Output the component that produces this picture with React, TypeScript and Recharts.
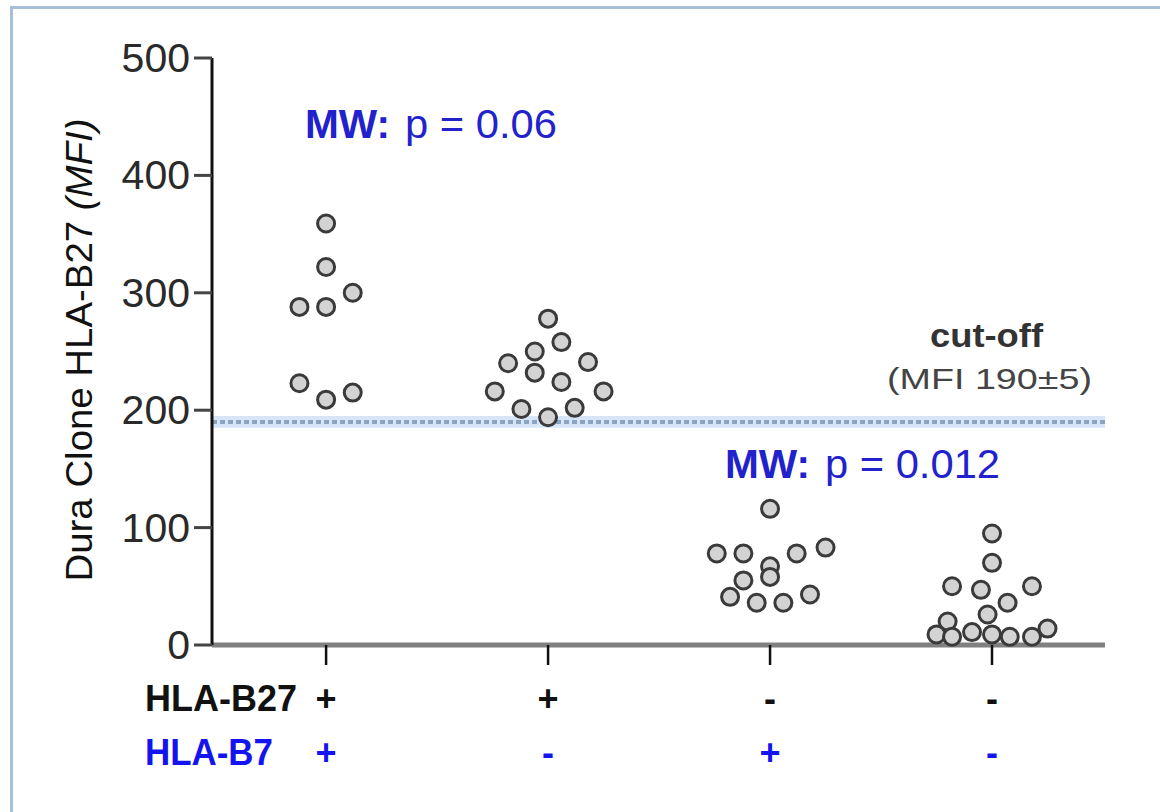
import React from "react";
import {
  ScatterChart,
  Scatter,
  XAxis,
  YAxis,
  ReferenceArea,
  ReferenceLine,
} from "recharts";

const FONT = "'Liberation Sans', Arial, sans-serif";

// group positions on the x axis
const groupPositions = [1, 2, 3, 4];
const b27Status = ["+", "+", "-", "-"];
const b7Status = ["+", "-", "+", "-"];

// MFI per sample, with the horizontal spread (in group units)
const group1Values = [359, 322, 300, 288, 288, 223, 209, 215];
const group1Jitter = [0, 0, 0.12, -0.12, 0, -0.12, 0, 0.12];
const group2Values = [278, 258, 250, 240, 241, 232, 224, 216, 216, 201, 202, 194];
const group2Jitter = [0, 0.06, -0.06, -0.18, 0.18, -0.06, 0.06, -0.24, 0.25, -0.12, 0.12, 0];
const group3Values = [116, 78, 78, 78, 83, 67, 55, 58, 41, 36, 36, 43];
const group3Jitter = [0, -0.24, -0.12, 0.12, 0.25, 0, -0.12, 0, -0.18, -0.06, 0.06, 0.18];
const group4Values = [95, 70, 50, 47, 50, 36, 26, 20, 9, 7, 11, 9, 7, 7, 14];
const group4Jitter = [0, 0, -0.18, -0.05, 0.18, 0.07, -0.02, -0.2, -0.25, -0.18, -0.09, 0, 0.08, 0.18, 0.25];

const yTicks = [0, 100, 200, 300, 400, 500];
const cutOff = 190;
const cutOffSpread = 5;

const toPoints = (pos: number, values: number[], jitter: number[]) =>
  values.map((v, i) => ({ x: pos + jitter[i], y: v }));

const groupData = [
  toPoints(groupPositions[0], group1Values, group1Jitter),
  toPoints(groupPositions[1], group2Values, group2Jitter),
  toPoints(groupPositions[2], group3Values, group3Jitter),
  toPoints(groupPositions[3], group4Values, group4Jitter),
];

const Dot = (props: any) => {
  const { cx, cy } = props;
  if (cx == null || cy == null) return null;
  return <circle cx={cx} cy={cy} r={8.5} fill="#d3d3d3" stroke="#3a3a3a" strokeWidth={3} />;
};

const YTick = (props: any) => {
  const { x, y, payload } = props;
  return (
    <text
      x={x - 2}
      y={y}
      dy={14}
      textAnchor="end"
      fontSize={41}
      fontFamily={FONT}
      fill="#2a2a2a"
    >
      {payload.value}
    </text>
  );
};

const XTick = (props: any) => {
  const { x, y, index } = props;
  return (
    <g>
      <text x={x} y={y + 44} textAnchor="middle" fontSize={36} fontWeight="bold" fontFamily={FONT} fill="#111">
        {b27Status[index]}
      </text>
      <text x={x} y={y + 98} textAnchor="middle" fontSize={36} fontWeight="bold" fontFamily={FONT} fill="#1414f0">
        {b7Status[index]}
      </text>
    </g>
  );
};

export default function App() {
  return (
    <div
      style={{
        position: "absolute",
        left: 0,
        top: 0,
        width: 1160,
        height: 812,
        background: "#fff",
        overflow: "hidden",
        fontFamily: FONT,
      }}
    >
      <div
        style={{
          position: "absolute",
          left: 10,
          top: 6,
          width: 1200,
          height: 900,
          borderLeft: "3px solid #a7bfd7",
          borderTop: "3px solid #a7bfd7",
        }}
      />
      <ScatterChart
        width={1160}
        height={812}
        margin={{ top: 58, right: 55, bottom: 57, left: 112 }}
        style={{ position: "absolute", left: 0, top: 0 }}
      >
        <XAxis
          type="number"
          dataKey="x"
          domain={[0.486, 4.509]}
          ticks={groupPositions}
          interval={0}
          height={110}
          axisLine={{ stroke: "#808080", strokeWidth: 5 }}
          tickLine={{ stroke: "#111", strokeWidth: 2.5 }}
          tickSize={20}
          tick={<XTick />}
        />
        <YAxis
          type="number"
          dataKey="y"
          domain={[0, 500]}
          ticks={yTicks}
          interval={0}
          width={100}
          axisLine={{ stroke: "#111", strokeWidth: 3 }}
          tickLine={{ stroke: "#444", strokeWidth: 3 }}
          tickSize={18}
          tick={<YTick />}
        />
        <ReferenceArea
          y1={cutOff - cutOffSpread}
          y2={cutOff + cutOffSpread}
          fill="#d6e6f8"
          fillOpacity={1}
          stroke="none"
        />
        <ReferenceLine y={cutOff} stroke="#8ba4c2" strokeWidth={4} strokeDasharray="5 3" />
        {groupData.map((pts, i) => (
          <Scatter key={i} data={pts} shape={<Dot />} isAnimationActive={false} />
        ))}
      </ScatterChart>
      <svg
        width={1160}
        height={812}
        style={{ position: "absolute", left: 0, top: 0, pointerEvents: "none" }}
        fontFamily={FONT}
      >
        <text
          transform="translate(92, 350) rotate(-90)"
          textAnchor="middle"
          fontSize={37}
          fill="#111"
          textLength={463}
          lengthAdjust="spacingAndGlyphs"
        >
          Dura Clone HLA-B27 <tspan fontStyle="italic">(MFI)</tspan>
        </text>

        <text x={305} y={138} fontSize={40} fontWeight="bold" fill="#2222cc" textLength={85} lengthAdjust="spacingAndGlyphs">
          MW:
        </text>
        <text x={405} y={138} fontSize={40} fill="#2222cc" textLength={152} lengthAdjust="spacingAndGlyphs">
          p = 0.06
        </text>

        <text x={725} y={478} fontSize={40} fontWeight="bold" fill="#2222cc" textLength={85} lengthAdjust="spacingAndGlyphs">
          MW:
        </text>
        <text x={825} y={478} fontSize={40} fill="#2222cc" textLength={175} lengthAdjust="spacingAndGlyphs">
          p = 0.012
        </text>

        <text x={930} y={347} fontSize={33} fontWeight="bold" fill="#333" textLength={113} lengthAdjust="spacingAndGlyphs">
          cut-off
        </text>
        <text x={887} y={389} fontSize={30} fill="#444" textLength={205} lengthAdjust="spacingAndGlyphs">
          (MFI 190±5)
        </text>

        <text x={145} y={711} fontSize={37} fontWeight="bold" fill="#111" textLength={152} lengthAdjust="spacingAndGlyphs">
          HLA-B27
        </text>
        <text x={145} y={765} fontSize={37} fontWeight="bold" fill="#1414f0" textLength={128} lengthAdjust="spacingAndGlyphs">
          HLA-B7
        </text>
      </svg>
    </div>
  );
}
